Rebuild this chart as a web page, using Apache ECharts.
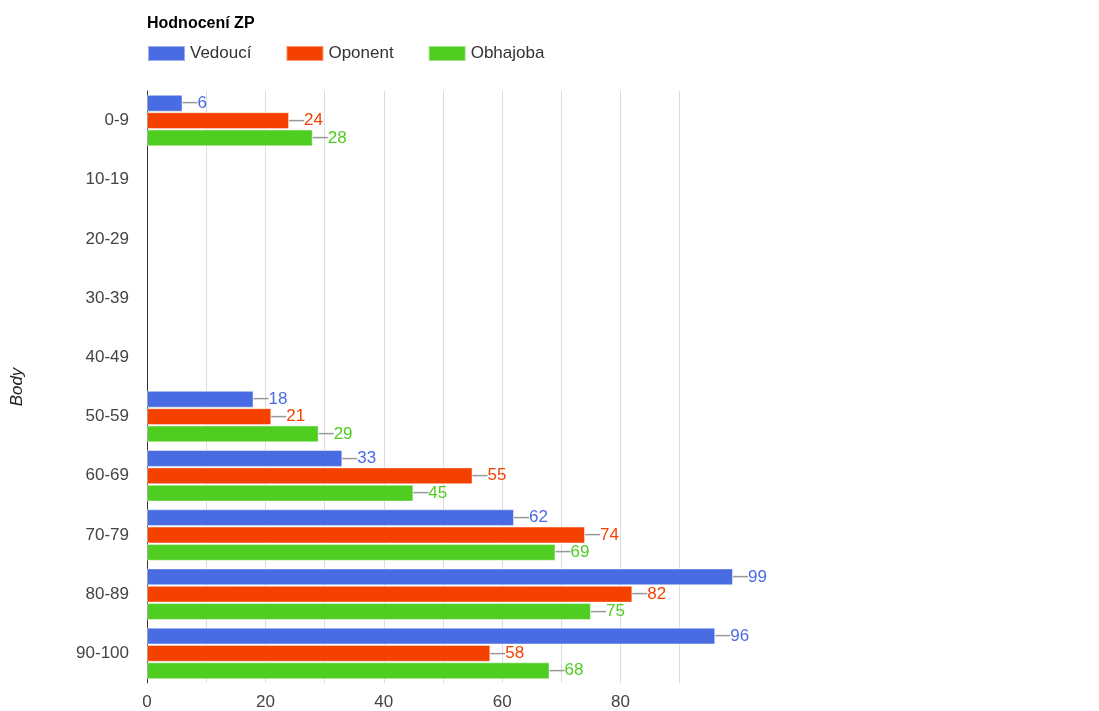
<!DOCTYPE html>
<html><head><meta charset="utf-8">
<script src="https://cdn.jsdelivr.net/npm/echarts@6/dist/echarts.min.js"></script>
<style>html,body{margin:0;padding:0;background:#fff}#c{width:1099px;height:711px}</style>
</head><body><div id="c"></div>
<script>
const categories = ['0-9','10-19','20-29','30-39','40-49','50-59','60-69','70-79','80-89','90-100'];
const vedouci = [6, null, null, null, null, 18, 33, 62, 99, 96];
const oponent = [24, null, null, null, null, 21, 55, 74, 82, 58];
const obhajoba = [28, null, null, null, null, 29, 45, 69, 75, 68];
const xTicks = [0, 20, 40, 60, 80];
const seriesNames = ['Vedoucí', 'Oponent', 'Obhajoba'];
const colors = ['#4a6ce2', '#f54100', '#4fcd21'];
const FONT = '"Liberation Sans", Arial, sans-serif';

function mk(name, data, color) {
  return {
    name, type: 'bar', data,
    barGap: '3%', barCategoryGap: '13%',
    itemStyle: { color, borderColor: 'rgba(255,255,255,0.45)', borderWidth: 1 },
    label: {
      show: true, position: 'right', distance: 0,
      formatter: p => (p.value == null ? '' : '{l|—}{v|' + p.value + '}'),
      rich: {
        l: { color: '#999', fontSize: 15, fontWeight: 'bold', fontFamily: FONT },
        v: { color, fontSize: 17, fontFamily: FONT }
      }
    }
  };
}

const chart = echarts.init(document.getElementById('c'));
chart.setOption({
  animation: false,
  color: colors,
  textStyle: { fontFamily: FONT },
  title: { text: 'Hodnocení ZP', left: 142, top: 11,
    textStyle: { fontSize: 16, fontWeight: 'bold', color: '#000', fontFamily: FONT } },
  legend: { left: 142, top: 40, itemWidth: 37, itemHeight: 15, itemGap: 34, icon: 'rect',
    textStyle: { fontSize: 17, color: '#333', fontFamily: FONT } },
  grid: { left: 147, right: 366, top: 91, bottom: 28, containLabel: false },
  xAxis: {
    type: 'value', min: 0, max: 99, interval: 10,
    axisLine: { show: false }, axisTick: { show: false },
    splitLine: { show: true, showMinLine: false, showMaxLine: false, lineStyle: { color: '#dcdcdc' } },
    axisLabel: { fontSize: 17, color: '#444', margin: 11, fontFamily: FONT,
      formatter: v => (xTicks.indexOf(v) >= 0 ? String(v) : ''), showMaxLabel: false }
  },
  yAxis: {
    type: 'category', data: categories, inverse: true,
    name: 'Body', nameLocation: 'middle', nameGap: 121, nameRotate: 90,
    nameTextStyle: { fontStyle: 'italic', fontSize: 17, color: '#222', fontFamily: FONT },
    axisLine: { show: true, lineStyle: { color: '#333' } },
    axisTick: { show: false },
    axisLabel: { fontSize: 17, color: '#444', margin: 18, fontFamily: FONT }
  },
  series: [mk(seriesNames[0], vedouci, colors[0]), mk(seriesNames[1], oponent, colors[1]), mk(seriesNames[2], obhajoba, colors[2])]
});
</script></body></html>
